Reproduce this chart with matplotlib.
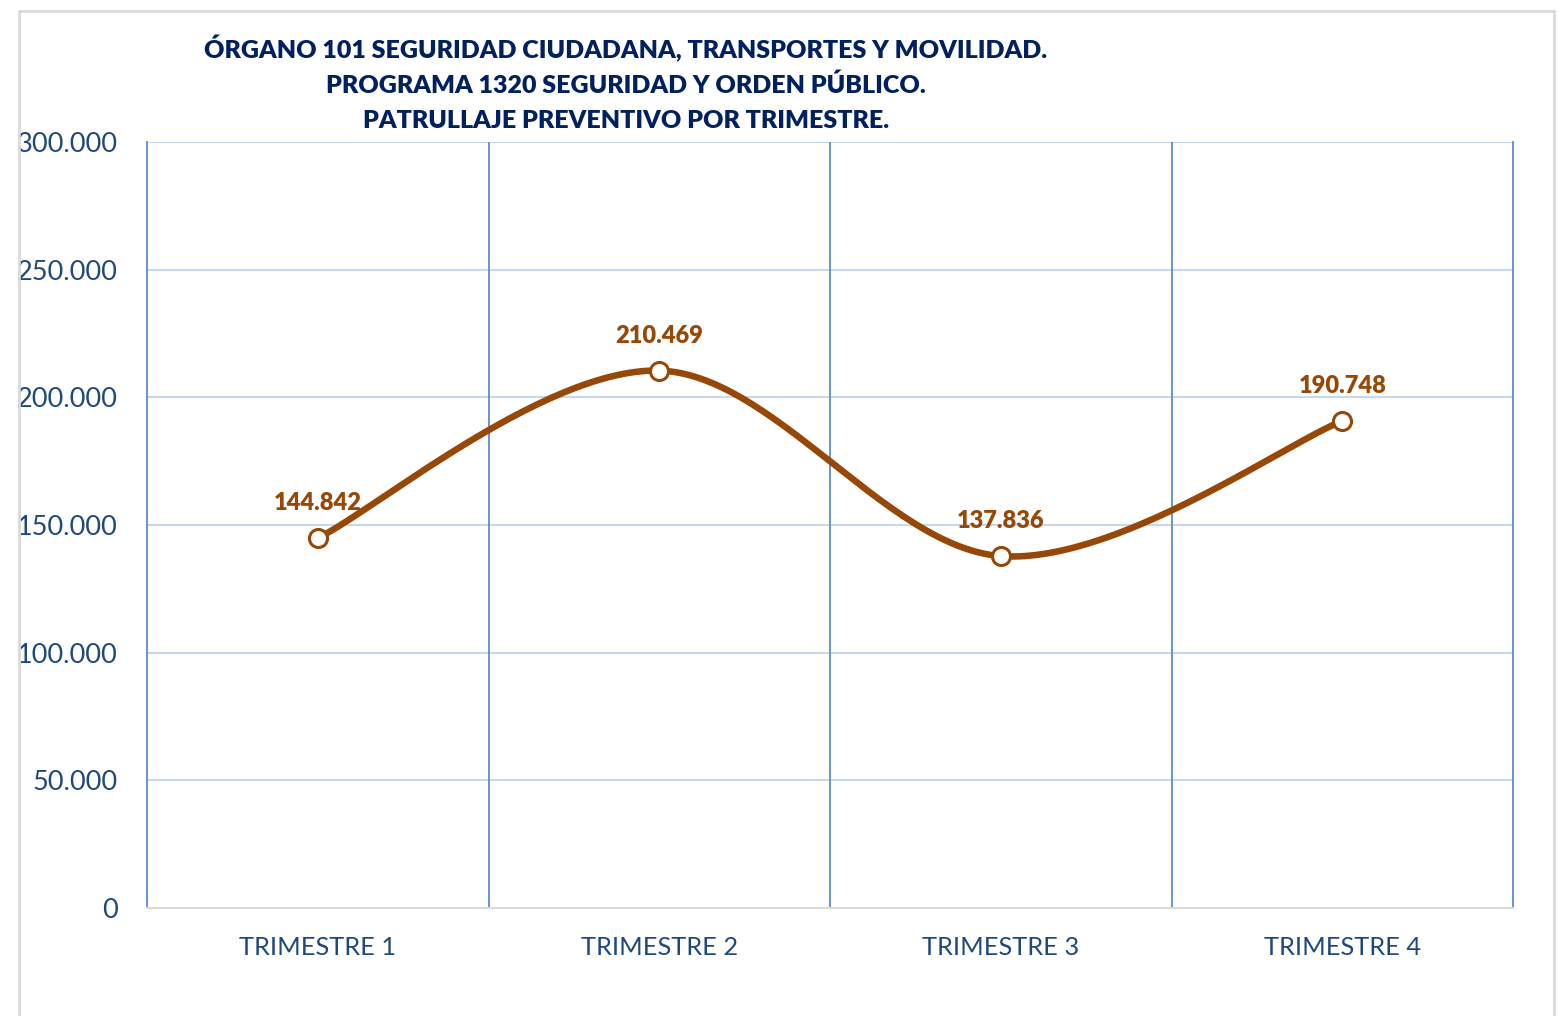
import numpy as np
import matplotlib.pyplot as plt
from matplotlib.patches import Rectangle
from matplotlib.ticker import FuncFormatter

trimestres = ['TRIMESTRE 1', 'TRIMESTRE 2', 'TRIMESTRE 3', 'TRIMESTRE 4']
patrullajes = [144842, 210469, 137836, 190748]
titulo = ['ÓRGANO 101 SEGURIDAD CIUDADANA, TRANSPORTES Y MOVILIDAD.',
          'PROGRAMA 1320 SEGURIDAD Y ORDEN PÚBLICO.',
          'PATRULLAJE PREVENTIVO POR TRIMESTRE.']

navy = '#1F497D'
titulo_color = '#002060'
marron = '#974706'
grid_h = '#C6D9F1'
grid_v = '#5B8BD0'

plt.rcParams['font.family'] = ['Lato', 'DejaVu Sans']


def puntos_miles(v, pos=None):
    return f'{int(round(v)):,}'.replace(',', '.')


def curva_suave(xs, ys, n=60):
    # bezier tipo Excel (catmull-rom)
    P = np.column_stack([xs, ys]).astype(float)
    ext = np.vstack([P[0], P, P[-1]])
    out = []
    for i in range(len(P) - 1):
        p0, p1, p2, p3 = ext[i], ext[i + 1], ext[i + 2], ext[i + 3]
        c1 = p1 + (p2 - p0) / 6
        c2 = p2 - (p3 - p1) / 6
        t = np.linspace(0, 1, n)[:, None]
        seg = ((1 - t) ** 3) * p1 + 3 * ((1 - t) ** 2) * t * c1 + 3 * (1 - t) * t ** 2 * c2 + t ** 3 * p2
        out.append(seg if i == 0 else seg[1:])
    out = np.vstack(out)
    return out[:, 0], out[:, 1]


fig = plt.figure(figsize=(15.62, 10.16), dpi=100)
fig.patches.append(Rectangle((19 / 1562, -0.01), (1554 - 19) / 1562, (1016 - 11) / 1016 + 0.01,
                             transform=fig.transFigure, fill=False, edgecolor='#D9D9D9', linewidth=2))

ax = fig.add_axes([147 / 1562, 108 / 1016, 1366 / 1562, 766 / 1016])

x = np.arange(len(trimestres))
sx, sy = curva_suave(x, patrullajes)
ax.plot(sx, sy, color=marron, linewidth=4.7, solid_capstyle='round', zorder=3)
ax.plot(x, patrullajes, 'o', markersize=13, markerfacecolor='white', markeredgecolor=marron,
        markeredgewidth=2.2, zorder=4)

for xi, v in zip(x, patrullajes):
    ax.annotate(puntos_miles(v), (xi, v), xytext=(0, 25), textcoords='offset points',
                ha='center', va='center', color=marron, fontsize=17, fontweight='heavy')

ax.set_xlim(-0.5, len(trimestres) - 0.5)
ax.set_ylim(0, 300000)
ax.set_yticks(np.arange(0, 300001, 50000))
ax.yaxis.set_major_formatter(FuncFormatter(puntos_miles))
ax.set_xticks(x)
ax.set_xticklabels(trimestres)
ax.tick_params(axis='both', length=0, labelcolor=navy)
ax.tick_params(axis='y', pad=21, labelsize=19.5)
ax.tick_params(axis='x', pad=20, labelsize=18.3)

for yv in np.arange(50000, 300001, 50000):
    ax.axhline(yv, color=grid_h, linewidth=1.5, zorder=1)
for xv in np.arange(0.5, len(trimestres) - 0.5):
    ax.axvline(xv, color=grid_v, linewidth=1.3, zorder=1)

for lado in ['left', 'right']:
    ax.spines[lado].set_color(grid_v)
    ax.spines[lado].set_linewidth(1.3)
ax.spines['top'].set_visible(False)
ax.spines['bottom'].set_color('#D9D9D9')
ax.spines['bottom'].set_linewidth(1.5)

for i, linea in enumerate(titulo):
    fig.text(626 / 1562, 1 - (49 + 36 * i) / 1016, linea, ha='center', va='center',
             color=titulo_color, fontsize=18, fontweight='heavy')

fig.savefig('out.png', dpi=100)
